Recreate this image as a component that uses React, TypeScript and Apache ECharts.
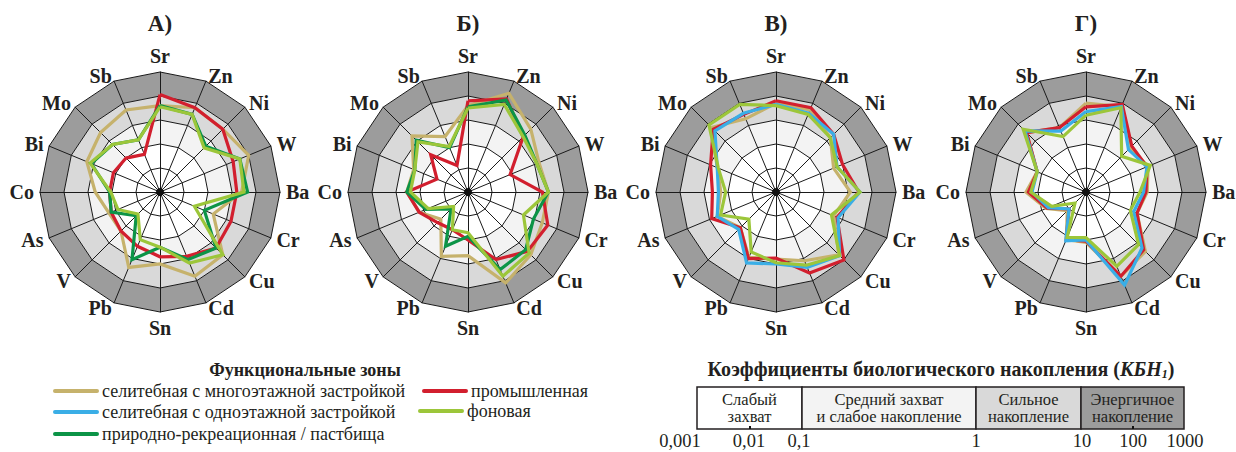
import React, { useEffect, useRef } from "react";
import * as echarts from "echarts";

// Elements, clockwise from the top
const elements = ["Sr", "Zn", "Ni", "W", "Ba", "Cr", "Cu", "Cd", "Sn", "Pb", "V", "As", "Co", "Bi", "Mo", "Sb"];
const panelTitles = ["А)", "Б)", "В)", "Г)"];

// Radial scale: lg(КБН) from -3 (0,001) at the centre to 2 (100) at the rim
const lgMin = -3;
const lgMax = 2;

// Functional zones
const zoneNames = [
  "селитебная с многоэтажной застройкой",
  "промышленная",
  "селитебная с одноэтажной застройкой",
  "природно-рекреационная / пастбища",
  "фоновая",
];
const zoneColors = ["#c6b26c", "#d21f2e", "#3aaee6", "#0c9447", "#9cc63a"];

// lg(КБН) values, clockwise Sr..Sb
// Panel А
const A_multistorey = [0.6, 0.8, 0.7, 1.0, 0.4, -0.6, 0.7, 0.8, 0.0, 0.4, -0.7, -0.7, -0.3, 0.3, 0.5, 0.7];
const A_industrial = [1.06, 0.8, 0.7, 0.3, 0.2, 0.2, 0.3, -0.1, -0.3, -0.55, -0.7, -0.8, -0.9, -0.9, -1.0, -1.3];
const A_recreation = [0.6, 0.5, -0.3, 0.6, 0.65, -1.0, 0.3, 0.05, -0.7, 0.05, -1.6, -0.8, -0.9, 0.1, -0.2, -0.65];
const A_background = [0.55, 0.5, -0.4, 0.6, 0.5, -1.45, 0.7, 0.2, -0.7, -0.85, -1.7, -1.1, -0.95, 0.15, -0.2, -0.65];
// Panel Б
const B_multistorey = [0.6, 1.45, 0.7, 0.2, 0.35, 0.35, 0.7, 1.1, -0.35, -0.1, -1.4, -0.8, -0.45, -0.55, 0.3, -0.5];
const B_industrial = [0.8, 1.2, 0.25, -1.1, 0.1, 0.6, 0.5, 0.05, -1.0, -1.3, -1.2, -0.8, -0.45, -1.6, -0.8, -1.8];
const B_recreation = [0.55, 1.15, 0.35, 0.1, 0.35, -0.05, 0.4, 0.5, -1.15, -0.55, -2.0, -1.1, -0.45, -0.6, 0.05, -1.0];
const B_background = [0.5, 0.95, 0.25, 0.1, 0.35, -0.5, 0.6, 0.8, -1.3, -1.3, -2.15, -1.2, -0.6, -0.6, -0.05, -0.95];
// Panel В
const V_multistorey = [0.7, 0.7, 0.2, -0.4, 0.1, -0.4, 0.7, 0.1, -0.2, -0.05, -0.9, -0.35, -0.7, -0.35, 0.8, 0.3];
const V_industrial = [0.8, 0.8, 0.4, 0.0, 0.45, -0.25, 1.0, 0.65, -0.25, 0.0, -0.9, -0.1, -0.35, -0.05, 0.7, 0.5];
const V_onestorey = [0.65, 0.55, 0.4, -0.25, 0.5, -0.2, 0.75, 0.4, 0.0, 0.2, -0.8, -0.35, -0.6, -0.35, 0.6, 0.55];
const V_background = [0.6, 0.5, 0.2, -0.25, 0.5, -0.5, 0.75, 0.3, -0.05, -0.3, -1.4, -0.5, -0.9, -0.4, 0.95, 0.95];
// Panel Г
const G_multistorey = [0.7, 0.85, -0.4, -0.2, -0.45, -0.7, 0.5, 0.8, -0.9, -0.85, -1.9, -1.2, -0.5, -0.8, 0.5, -0.1];
const G_industrial = [0.55, 0.95, -0.3, -0.25, -0.5, -0.7, 0.4, 0.8, -0.95, -0.85, -2.0, -1.25, -0.6, -0.8, 0.5, -0.1];
const G_onestorey = [0.35, 0.85, -0.5, -0.25, -0.6, -0.85, 0.3, 1.2, -1.0, -0.8, -2.0, -1.3, -0.75, -0.8, 0.6, -0.25];
const G_background = [0.2, 0.8, -0.9, -0.1, -0.75, -1.0, 0.1, 0.35, -1.1, -0.95, -2.35, -1.45, -0.7, -0.8, 0.7, -0.5];

// Scale legend (КБН)
const scaleZones = [
  "Слабый\nзахват",
  "Средний захват\nи слабое накопление",
  "Сильное\nнакопление",
  "Энергичное\nнакопление",
];
const scaleZoneColors = ["#ffffff", "#f3f3f3", "#d9d9d9", "#9c9c9c"];
const scaleTickLabels = ["0,001", "0,01", "0,1", "1", "10", "100", "1000"];

const SERIF = "Liberation Serif, DejaVu Serif, serif";

// series per panel: [zoneIndex, values]
const panels: [number, number[]][][] = [
  [[0, A_multistorey], [1, A_industrial], [3, A_recreation], [4, A_background]],
  [[0, B_multistorey], [1, B_industrial], [3, B_recreation], [4, B_background]],
  [[0, V_multistorey], [1, V_industrial], [2, V_onestorey], [4, V_background]],
  [[0, G_multistorey], [1, G_industrial], [2, G_onestorey], [4, G_background]],
];

// ECharts places radar indicators counter-clockwise; reorder so they run clockwise
const toRadarOrder = <T,>(arr: T[]): T[] => [arr[0], ...arr.slice(1).reverse()];

const txt = (
  text: string,
  x: number,
  y: number,
  size: number,
  opts: { bold?: boolean; align?: string; lineHeight?: number; z?: number } = {}
) => ({
  type: "text",
  x,
  y,
  z: opts.z ?? 5,
  style: {
    text,
    fontFamily: SERIF,
    fontSize: size,
    fontWeight: opts.bold ? "bold" : "normal",
    fill: "#231f20",
    textAlign: opts.align ?? "center",
    textVerticalAlign: "middle",
    lineHeight: opts.lineHeight,
  },
});

export default function App() {
  const ref = useRef<HTMLDivElement>(null);

  useEffect(() => {
    if (!ref.current) return;
    const chart = echarts.init(ref.current, undefined, { renderer: "svg" });

    const centersX = [160, 468, 776, 1086];
    const cy = 192;
    const R = 120;

    const radar = centersX.map((cx) => ({
      center: [cx, cy],
      radius: R,
      startAngle: 90,
      splitNumber: 5,
      shape: "polygon",
      indicator: toRadarOrder(elements).map((name) => ({ name, min: lgMin, max: lgMax })),
      axisName: {
        color: "#231f20",
        fontFamily: SERIF,
        fontWeight: "bold",
        fontSize: 20,
      },
      nameGap: 6,
      axisLine: { lineStyle: { color: "#1a1a1a", width: 1 } },
      axisTick: { show: false },
      axisLabel: { show: false },
      splitLine: { lineStyle: { color: "#1a1a1a", width: 1 } },
      splitArea: {
        show: true,
        areaStyle: { color: ["#ffffff", "#ffffff", "#f3f3f3", "#d9d9d9", "#9c9c9c"] },
      },
    }));

    const series: any[] = [];
    panels.forEach((panel, pi) => {
      panel.forEach(([zi, vals]) => {
        series.push({
          type: "radar",
          radarIndex: pi,
          name: zoneNames[zi],
          symbol: "none",
          silent: true,
          lineStyle: { color: zoneColors[zi], width: 3.2, join: "miter" },
          itemStyle: { color: zoneColors[zi] },
          data: [{ value: toRadarOrder(vals), name: zoneNames[zi] }],
        });
      });
    });

    const graphic: any[] = [];
    // panel titles and centre dots
    centersX.forEach((cx, i) => {
      graphic.push(txt(panelTitles[i], cx, 23, 23, { bold: true }));
      graphic.push({
        type: "circle",
        shape: { cx, cy, r: 4 },
        style: { fill: "#111" },
        z: 100,
      });
    });

    // Functional zones legend
    graphic.push(txt("Функциональные зоны", 305, 370, 18, { bold: true }));
    const legendItems: [number, number, number][] = [
      // zone, x, y
      [0, 55, 391],
      [2, 55, 412],
      [3, 55, 434],
      [1, 424, 391],
      [4, 420, 411],
    ];
    legendItems.forEach(([zi, x, y]) => {
      graphic.push({
        type: "line",
        shape: { x1: x, y1: y, x2: x + 42, y2: y },
        style: { stroke: zoneColors[zi], lineWidth: 4, lineCap: "round" },
      });
      graphic.push(txt(zoneNames[zi], x + 47, y, 18, { align: "left" }));
    });

    // КБН scale legend
    graphic.push({
      type: "text",
      x: 941,
      y: 369,
      style: {
        text: "Коэффициенты биологического накопления ({i|КБН}{s|1})",
        fontFamily: SERIF,
        fontSize: 20,
        fontWeight: "bold",
        fill: "#231f20",
        textAlign: "center",
        textVerticalAlign: "middle",
        rich: {
          i: { fontFamily: SERIF, fontWeight: "bold", fontStyle: "italic", fontSize: 20, fill: "#231f20" },
          s: {
            fontFamily: SERIF,
            fontWeight: "bold",
            fontStyle: "italic",
            fontSize: 12,
            fill: "#231f20",
            padding: [10, 0, 0, 0],
          },
        },
      },
    });
    const bounds = [697, 802, 976, 1081, 1184];
    const boxTop = 387;
    const boxBottom = 429;
    scaleZones.forEach((label, i) => {
      const x0 = bounds[i];
      const x1 = bounds[i + 1];
      graphic.push({
        type: "rect",
        shape: { x: x0, y: boxTop, width: x1 - x0, height: boxBottom - boxTop },
        style: { fill: scaleZoneColors[i], stroke: "#231f20", lineWidth: 1.5 },
      });
      graphic.push(txt(label, (x0 + x1) / 2, 408, 16.5, { lineHeight: 17.5, z: 10 }));
    });
    [750, 1133].forEach((x) => {
      graphic.push({
        type: "line",
        shape: { x1: x, y1: boxBottom - 3, x2: x, y2: boxBottom },
        style: { stroke: "#111", lineWidth: 2 },
        z: 10,
      });
    });
    const tickX = [680, 749, 799, 976, 1082, 1133, 1185];
    scaleTickLabels.forEach((t, i) => {
      graphic.push(txt(t, tickX[i], 441, 18.5));
    });

    chart.setOption({
      animation: false,
      backgroundColor: "#ffffff",
      radar,
      series,
      graphic,
    });

    return () => chart.dispose();
  }, []);

  return (
    <div
      ref={ref}
      style={{ position: "fixed", left: 0, top: 0, width: 1236, height: 452, background: "#fff" }}
    />
  );
}
